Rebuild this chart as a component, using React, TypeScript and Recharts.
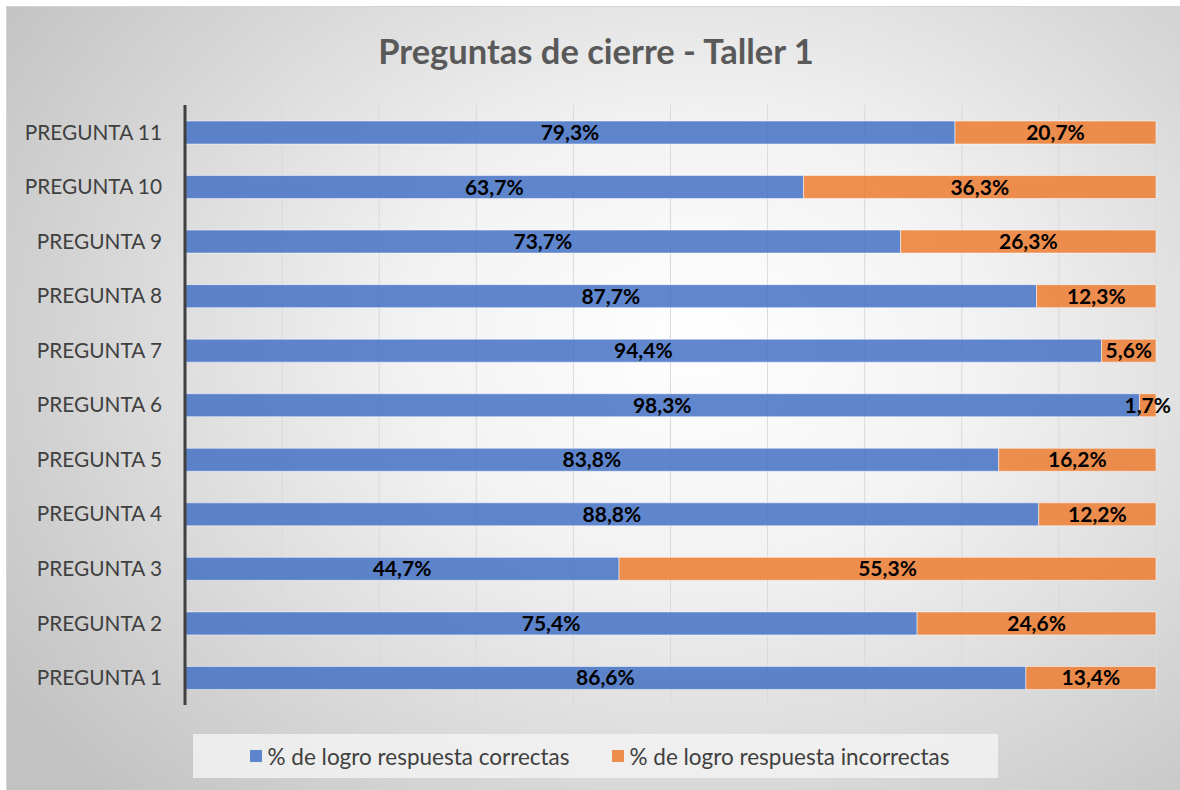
import React from 'react';
import { BarChart, Bar, XAxis, YAxis, CartesianGrid, LabelList, Legend } from 'recharts';

const categories = ['PREGUNTA 1', 'PREGUNTA 2', 'PREGUNTA 3', 'PREGUNTA 4', 'PREGUNTA 5', 'PREGUNTA 6', 'PREGUNTA 7', 'PREGUNTA 8', 'PREGUNTA 9', 'PREGUNTA 10', 'PREGUNTA 11'];
const correctas = [86.6, 75.4, 44.7, 88.8, 83.8, 98.3, 94.4, 87.7, 73.7, 63.7, 79.3];
const incorrectas = [13.4, 24.6, 55.3, 12.2, 16.2, 1.7, 5.6, 12.3, 26.3, 36.3, 20.7];
const xTicks = [0, 0.1, 0.2, 0.3, 0.4, 0.5, 0.6, 0.7, 0.8, 0.9, 1];
const seriesNames = ['% de logro respuesta correctas', '% de logro respuesta incorrectas'];

const data = categories.map((c, i) => ({ name: c, correctas: correctas[i], incorrectas: incorrectas[i] }));

const FONT = 'Lato, "Open Sans", sans-serif';
const BLUE = '#4472C4';
const ORANGE = '#ED7D31';

const fmt = (v: any) => `${Number(v).toFixed(1).replace('.', ',')}%`;

const BottomTick = (props: any) => {
  const { x, y } = props;
  return <line x1={x} x2={x} y1={y - 15} y2={y} stroke="#8c8c8c" strokeWidth={1} />;
};

const LegendContent = () => (
  <div
    style={{
      background: 'rgba(242,242,242,0.85)',
      height: 44,
      display: 'flex',
      alignItems: 'center',
      justifyContent: 'center',
      fontFamily: FONT,
      fontSize: 22.5,
      color: '#404040',
      gap: 42,
      paddingLeft: 8,
    }}
  >
    {[BLUE, ORANGE].map((c, i) => (
      <div key={i} style={{ display: 'flex', alignItems: 'center' }}>
        <span style={{ display: 'inline-block', width: 12, height: 12, background: c, opacity: 0.85, marginRight: 6 }} />
        <span>{seriesNames[i]}</span>
      </div>
    ))}
  </div>
);

export default function App() {
  return (
    <div style={{ position: 'absolute', left: 0, top: 0, width: 1180, height: 790, background: '#ffffff', overflow: 'hidden' }}>
      <div
        style={{
          position: 'absolute',
          left: 6,
          top: 6,
          width: 1190,
          height: 800,
          border: '1px solid #d4d4d4',
          background: 'radial-gradient(ellipse 70% 80% at 58% 42%, #ffffff 0%, #f2f2f2 35%, #c2c2c2 100%)',
        }}
      />
      <div
        style={{
          position: 'absolute',
          left: 0,
          top: 30,
          width: 1192,
          textAlign: 'center',
          fontFamily: FONT,
          fontWeight: 700,
          fontSize: 34.5,
          color: '#595959',
        }}
      >
        Preguntas de cierre - Taller 1
      </div>
      <div style={{ position: 'absolute', left: 0, top: 0 }}>
        <BarChart
          width={1180}
          height={790}
          data={data}
          layout="vertical"
          stackOffset="expand"
          margin={{ top: 105, right: 24, bottom: 41, left: 0 }}
          barCategoryGap={16}
        >
          <CartesianGrid horizontal={false} stroke="#d9d9d9" strokeWidth={1} />
          <XAxis
            type="number"
            domain={[0, 1]}
            ticks={xTicks}
            height={0}
            tickSize={0}
            tickMargin={0}
            axisLine={false}
            tick={<BottomTick />}
            interval={0}
          />
          <YAxis
            type="category"
            dataKey="name"
            reversed
            width={185}
            axisLine={{ stroke: '#404040', strokeWidth: 3 }}
            tickLine={false}
            tickMargin={17}
            tick={{ fill: '#404040', fontSize: 20.8, fontFamily: FONT }}
            interval={0}
          />
          <Legend
            verticalAlign="bottom"
            content={<LegendContent />}
            wrapperStyle={{ left: 193, width: 805, bottom: 12 }}
          />
          <Bar dataKey="correctas" stackId="a" fill={BLUE} fillOpacity={0.85} stroke="#ffffff" strokeOpacity={0.5} isAnimationActive={false}>
            <LabelList dataKey="correctas" position="center" formatter={fmt} fill="#000000" fontSize={21} fontWeight={700} fontFamily={FONT} />
          </Bar>
          <Bar dataKey="incorrectas" stackId="a" fill={ORANGE} fillOpacity={0.85} stroke="#ffffff" strokeOpacity={0.5} isAnimationActive={false}>
            <LabelList dataKey="incorrectas" position="center" formatter={fmt} fill="#000000" fontSize={21} fontWeight={700} fontFamily={FONT} />
          </Bar>
        </BarChart>
      </div>
    </div>
  );
}
